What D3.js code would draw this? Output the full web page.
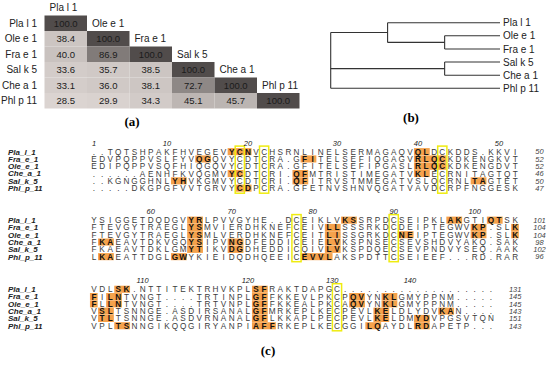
<!DOCTYPE html>
<html>
<head>
<meta charset="utf-8">
<script src="https://cdn.jsdelivr.net/npm/d3@7"></script>
<style>
  body { margin: 0; background: #fff; }
  svg { display: block; }
</style>
</head>
<body>
<svg id="chart" width="550" height="370"></svg>
<script>
// ---------- data: (a) identity matrix ----------
const species = ["Pla l 1", "Ole e 1", "Fra e 1", "Sal k 5", "Che a 1", "Phl p 11"];
const identity = [
  [100.0],
  [38.4, 100.0],
  [40.0, 86.9, 100.0],
  [33.6, 35.7, 38.5, 100.0],
  [33.1, 36.0, 38.1, 72.7, 100.0],
  [28.5, 29.9, 34.3, 45.1, 45.7, 100.0]
];

// ---------- data: (b) tree, h = relative branch position ----------
const tree = {h: 0, children: [
  {h: 0.336, children: [
    {name: "Pla l 1"},
    {h: 0.673, children: [{name: "Ole e 1"}, {name: "Fra e 1"}]}
  ]},
  {h: 0.673, children: [{name: "Sal k 5"}, {name: "Che a 1"}]},
  {name: "Phl p 11"}
]};

// ---------- data: (c) alignment ----------
const seqNames = ["Pla_l_1", "Fra_e_1", "Ole_e_1", "Che_a_1", "Sal_k_5", "Phl_p_11"];

const block1 = [
  "..TQTSHPAKFHVEGEVYCNVCHSRNLINELSERMAGAQVQLDCKDDS.KKVI",
  "EDVPQPPVSLFYVQGQVYCDTCRA.GFITELSEFIQGAGVRLQCKDKENGKVT",
  "EDIPQPPVSQFHIQGQVYCDTCRA.GFITELSEFIPGASLRLQCKDKENGDVT",
  "......AENHFKVQGMVYCDTCRI.QFMTRISTIMEGATVKLECRNITAGTQT",
  "..KGNGGHNLYHVKGMVYCDTCRI.QFITRVSTMMEGATVSLQCRNLTAGTET",
  ".....DKGPGFVVTGRVYCDPCRA.GFETNVSHNVQGATVAVDCRPFNGGESK"
];
const block2 = [
  "YSIGGETDQDGVYRLPVVGYHE..DCEIKLVKSSRPDCSEIPKLAKGTIQTSK",
  "FTEVGYTRAEGLYSMVIERDHKNEFCEIVLLSSSRKDCDEIPTEGWVKP.SLK",
  "FTEVGYTRAEGLYSMLVERDHKNEFCEITLISSGRKDCNEIPTEGWVKP.SLK",
  "FKAEAVTDKVGQYSIPVNGDFEDDICEIELVKSPNSECSEVSHDVYAKQ.SAK",
  "FKAEAVTDKLGMYTIKVDGDHEDDICQIVLVKSPDQECSEVPNDVYSEQ.AAK",
  "LKAEATTDGLGWYKIEIDQDHQEEICEVVLAKSPDTTCSEIEEF...RD.RAR"
];
const block3 = [
  "VDLSK.NTTITEKTRHVKPLSFRAKTDAPGC...................",
  "FILNTVNGT....TRTINPLGFFKKEVLPKCPQVYNKLGMYPPNM.....",
  "FLLNTVNGT....TRTVNPLGFFKKEALPKCAQVYNKLGMYPPNM.....",
  "VSLTSNNGE.ASDIRSANALGFMRKEPLKECPEVLKELDLYDVKAN....",
  "VTLTSNNGE.ASDVRNANALGFLKKAPLPECPEVLKELDMYDVPGSVTQN",
  "VPLTSNNGIKQQGIRYANPIAFFRKEPLKECGGILQAYDLRDAPETP..."
];

// highlighted runs: [row, firstCol, lastCol]
const hits1 = [[0,18,20],[0,41,42],[1,14,15],[1,27,28],[1,41,44],[2,41,44],
  [3,18,19],[3,26,27],[3,41,42],[4,11,12],[4,26,27],[4,48,49],[5,19,20]];
const hits2 = [[0,13,14],[0,32,33],[0,45,46],[0,50,51],
  [1,13,14],[1,30,31],[1,48,49],[1,53,53],
  [2,13,14],[2,30,31],[2,39,40],[2,48,49],[2,53,53],
  [3,2,3],[3,13,14],[3,18,19],[3,30,31],
  [4,13,14],[4,18,19],[4,30,31],
  [5,2,3],[5,11,12],[5,27,30]];
const hits3 = [[0,4,5],[0,21,22],
  [1,1,1],[1,3,4],[1,21,22],[1,33,34],[1,37,38],
  [2,1,1],[2,3,4],[2,21,22],[2,33,34],[2,37,38],
  [3,2,3],[3,21,22],[3,36,37],[3,44,45],
  [4,2,3],[4,21,22],[4,36,37],[4,41,42],
  [5,4,5],[5,21,23],[5,35,36],[5,41,42]];

// conserved cysteine columns (yellow boxes)
const cys1 = [19, 22, 44];
const cys2 = [26, 38];
const cys3 = [31];

// position ticks: [label, column]
const ticks1 = [[1,1],[10,10],[20,20],[30,31],[40,41],[50,51]];
const ticks2 = [[60,8],[70,18],[80,28],[90,38],[100,48]];
const ticks3 = [[110,7],[120,20],[130,30.4],[140,40]];

// residue counts at block ends
const ends1 = [50, 52, 52, 46, 50, 47];
const ends2 = [101, 104, 104, 98, 102, 96];
const ends3 = [131, 145, 145, 143, 151, 143];

// ---------- drawing ----------
const svg = d3.select("#chart");
const SANS = "'Liberation Sans', Arial, sans-serif";
const NARROW = "'Liberation Sans Narrow', 'Arial Narrow', 'Liberation Sans', Arial, sans-serif";
const SERIF = "'Liberation Serif', 'Times New Roman', serif";

// (a) heat matrix
const cx = d3.scaleBand().domain(species).range([44.5, 299.5]);
const cy = d3.scaleBand().domain(species).range([15.5, 108.5]);
const shade = d3.scaleLinear()
  .domain([28.5, 38.5, 45.4, 72.7, 86.9, 100])
  .range(["#dbd4d1", "#ccc5c2", "#bcb5b2", "#8e8886", "#817b79", "#514c4b"]);

const cells = [];
identity.forEach((row, i) => row.forEach((v, j) => cells.push({r: species[i], c: species[j], v})));

const gA = svg.append("g");
gA.selectAll("rect").data(cells).join("rect")
  .attr("x", d => cx(d.c)).attr("y", d => cy(d.r))
  .attr("width", cx.bandwidth()).attr("height", cy.bandwidth())
  .attr("fill", d => shade(d.v));
gA.selectAll("text.val").data(cells).join("text")
  .attr("class", "val")
  .attr("x", d => cx(d.c) + cx.bandwidth() / 2)
  .attr("y", d => cy(d.r) + cy.bandwidth() / 2)
  .attr("dy", "0.36em").attr("text-anchor", "middle")
  .attr("font-family", NARROW).attr("font-size", 9.5).attr("fill", "#1b1b1b")
  .text(d => d.v.toFixed(1));
gA.selectAll("text.row").data(species).join("text")
  .attr("class", "row")
  .attr("x", 37).attr("y", d => cy(d) + cy.bandwidth() / 2)
  .attr("dy", "0.36em").attr("text-anchor", "end")
  .attr("font-family", NARROW).attr("font-size", 10).attr("fill", "#222")
  .text(d => d);
gA.selectAll("text.col").data(species).join("text")
  .attr("class", "col")
  .attr("x", d => cx(d) + 5).attr("y", d => cy(d) - cy.bandwidth() / 2)
  .attr("dy", "0.36em")
  .attr("font-family", NARROW).attr("font-size", 10).attr("fill", "#222")
  .text(d => d);

// (b) dendrogram
const root = d3.hierarchy(tree);
const leafNames = root.leaves().map(d => d.data.name);
const ty = d3.scalePoint().domain(leafNames).range([22.7, 88.3]);
const tx = d3.scaleLinear().domain([0, 1]).range([330.7, 500]);
root.eachAfter(n => {
  n.px = tx(n.children ? n.data.h : 1);
  n.py = n.children
    ? (n.children[0].py + n.children[n.children.length - 1].py) / 2
    : ty(n.data.name);
});
const gB = svg.append("g").attr("stroke", "#333").attr("stroke-width", 1.1).attr("fill", "none");
root.descendants().filter(n => n.children).forEach(n => {
  const ys = n.children.map(c => c.py);
  gB.append("line").attr("x1", n.px).attr("x2", n.px)
    .attr("y1", d3.min(ys)).attr("y2", d3.max(ys));
  n.children.forEach(c => {
    gB.append("line").attr("x1", n.px).attr("x2", c.px)
      .attr("y1", c.py).attr("y2", c.py);
  });
});
svg.append("g").selectAll("text").data(leafNames).join("text")
  .attr("x", 503).attr("y", d => ty(d)).attr("dy", "0.36em")
  .attr("font-family", NARROW).attr("font-size", 10).attr("fill", "#222")
  .text(d => d);

// panel letters
svg.append("text").attr("x", 132).attr("y", 126).attr("text-anchor", "middle")
  .attr("font-family", SERIF).attr("font-weight", "bold").attr("font-size", 13).text("(a)");
svg.append("text").attr("x", 411).attr("y", 122).attr("text-anchor", "middle")
  .attr("font-family", SERIF).attr("font-weight", "bold").attr("font-size", 13).text("(b)");
svg.append("text").attr("x", 268).attr("y", 355).attr("text-anchor", "middle")
  .attr("font-family", SERIF).attr("font-weight", "bold").attr("font-size", 13).text("(c)");

// (c) alignment
const PITCH = 8.1;
const sx = d3.scaleLinear().domain([1, 53]).range([94, 94 + 52 * PITCH]);
const ry = d3.scaleLinear().domain([0, 5]).range([0, 5 * 7.3]);
const blocks = [
  {seqs: block1, hits: hits1, cys: cys1, ticks: ticks1, ends: ends1, top: 151.7},
  {seqs: block2, hits: hits2, cys: cys2, ticks: ticks2, ends: ends2, top: 220.2},
  {seqs: block3, hits: hits3, cys: cys3, ticks: ticks3, ends: ends3, top: 289.3}
];

blocks.forEach(b => {
  const g = svg.append("g");
  const y = r => b.top + ry(r);
  const n = b.seqs[0].length;

  // orange runs
  g.selectAll("rect.hit").data(b.hits).join("rect")
    .attr("x", d => sx(d[1]) - PITCH / 2)
    .attr("y", d => y(d[0]) - 3.6)
    .attr("width", d => (d[2] - d[1] + 1) * PITCH - 0.4)
    .attr("height", 7.1)
    .attr("fill", "#f5a24c");

  // yellow cysteine boxes
  g.selectAll("rect.cys").data(b.cys).join("rect")
    .attr("x", d => sx(d) - 4.6).attr("y", y(0) - 5.6)
    .attr("width", 9.2).attr("height", ry(5) + 10.6)
    .attr("fill", "none").attr("stroke", "#efec10").attr("stroke-width", 1.5);

  // residues
  const isHit = (r, c) => b.hits.some(h => h[0] === r && c >= h[1] && c <= h[2]);
  const res = [];
  b.seqs.forEach((s, r) => s.split("").forEach((ch, i) => res.push({r, c: i + 1, ch})));
  g.selectAll("text.res").data(res).join("text")
    .attr("x", d => sx(d.c)).attr("y", d => y(d.r)).attr("dy", "0.36em")
    .attr("text-anchor", "middle")
    .attr("font-family", SANS).attr("font-size", 8.2)
    .attr("font-weight", d => isHit(d.r, d.c) ? "bold" : "normal")
    .attr("fill", d => isHit(d.r, d.c) ? "#111" : "#3c3c3c")
    .text(d => d.ch);

  // names
  g.selectAll("text.name").data(seqNames).join("text")
    .attr("x", 8).attr("y", (d, i) => y(i)).attr("dy", "0.36em")
    .attr("font-family", SANS).attr("font-size", 8).attr("font-weight", "bold")
    .attr("font-style", "italic").attr("fill", "#222")
    .text(d => d);

  // position ticks
  g.selectAll("text.tick").data(b.ticks).join("text")
    .attr("x", d => sx(d[1])).attr("y", y(0) - 8.7).attr("dy", "0.36em")
    .attr("text-anchor", "middle")
    .attr("font-family", SANS).attr("font-size", 7.5).attr("font-style", "italic").attr("fill", "#222")
    .text(d => d[0]);

  // end counts
  g.selectAll("text.end").data(b.ends).join("text")
    .attr("x", sx(n + 3)).attr("y", (d, i) => y(i)).attr("dy", "0.36em")
    .attr("text-anchor", "middle")
    .attr("font-family", SANS).attr("font-size", 7.5).attr("font-style", "italic").attr("fill", "#444")
    .text(d => d);
});
</script>
</body>
</html>
